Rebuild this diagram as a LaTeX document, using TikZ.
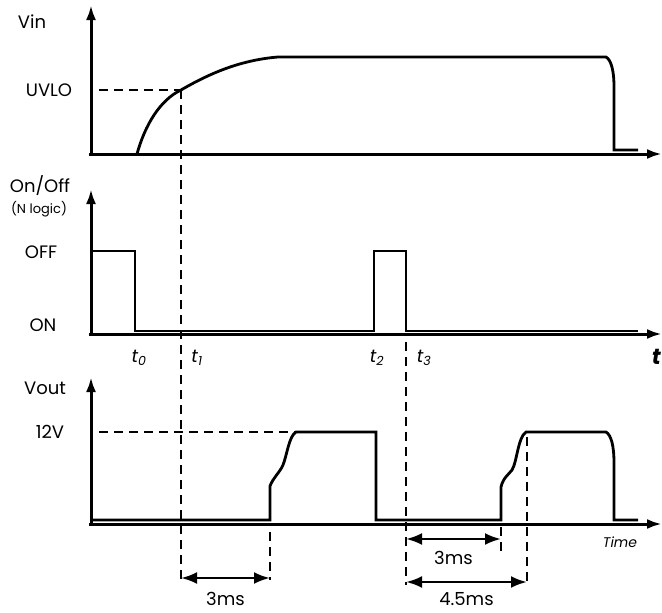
\documentclass[tikz,border=0pt]{standalone}
\usepackage{fontspec}
\setmainfont{Poppins}
\usetikzlibrary{arrows.meta}

\tikzset{
  axis/.style={line width=3pt, -{Latex[length=15pt,width=10pt]}},
  sig/.style={line width=2.8pt},
  guide/.style={line width=2.6pt, dash pattern=on 9pt off 6pt},
  dim/.style={line width=2.6pt, {Latex[length=16pt,width=12pt]}-{Latex[length=16pt,width=12pt]}},
  lbl/.style={font=\fontsize{18}{20}\selectfont, inner sep=0pt},
  tlbl/.style={font=\fontsize{18}{20}\selectfont\itshape, inner sep=0pt}
}

\begin{document}
\begin{tikzpicture}[x=1pt, y=-1pt]
\useasboundingbox (0,0) rectangle (662,613);

% axes
\draw[axis] (91,155) -- (91,5); % Vin axis
\draw[axis] (89,154) -- (662,154);
\draw[axis] (91,335) -- (91,189); % On/Off axis
\draw[axis] (89,334) -- (662,334);
\draw[axis] (91,525) -- (91,377); % Vout axis
\draw[axis] (89,524) -- (662,524);

% axis labels
\node[lbl] (vin) at (32,22) {Vin};
\node[lbl] (uvlo) at (49,90) {UVLO};
\node[lbl] (onoff) at (40,186) {On/Off};
\node[lbl, font=\fontsize{13}{15}\selectfont] (nlogic) at (39,209) {(N logic)};
\node[lbl] (off) at (41,252) {OFF};
\node[lbl] (on) at (43,325) {ON};
\node[lbl] (vout) at (45,388) {Vout};
\node[lbl] (twelve) at (50,432) {12V};

% Vin trace
\draw[sig] (137,154) .. controls (145,125) and (160,100) .. (181,90)
  .. controls (212,72) and (242,60) .. (278,57) -- (606,57)
  .. controls (611,60) and (614,70) .. (614,87) -- (614,150) -- (638,150);

% On/Off trace
\draw[sig] (91,251) -- (135,251) -- (135,331) -- (374,331) -- (374,251)
  -- (406,251) -- (406,331) -- (638,331);

% Vout trace
\draw[sig] (91,520) -- (270,520) -- (270,486) .. controls (273,478) and (280,472) .. (283,465)
  .. controls (287,455) and (289,436) .. (296,432) -- (376,432) -- (376,520)
  -- (501,520) -- (501,487) .. controls (503,478) and (509,474) .. (512,470)
  .. controls (517,462) and (518,437) .. (526,432) -- (606,432)
  .. controls (611,435) and (614,445) .. (614,463) -- (614,520) -- (638,520);

% time marks
\node[tlbl] (t0) at (139,358) {t\textsubscript{0}};
\node[tlbl] (t1) at (197,358) {t\textsubscript{1}};
\node[tlbl] (t2) at (377,358) {t\textsubscript{2}};
\node[tlbl] (t3) at (424,358) {t\textsubscript{3}};
\node[font=\fontsize{22}{24}\selectfont\bfseries\itshape, inner sep=0pt, anchor=east] (t) at (661,357) {t};
\node[font=\fontsize{14}{16}\selectfont\itshape, inner sep=0pt] (time) at (620,542) {Time};

% dashed guides
\draw[guide] (99,90) -- (181,90);
\draw[guide] (181,90) -- (181,580);
\draw[guide] (99,432) -- (296,432);
\draw[guide] (270,532) -- (270,580);
\draw[guide] (406,342) -- (406,585);
\draw[guide] (501,527) -- (501,552);
\draw[guide] (527,437) -- (527,585);

% delays
\coordinate (a1) at (181,578);
\coordinate (b1) at (270,578);
\draw[dim] (a1) -- (b1) node[lbl, midway, below=13pt] (d1) {3ms};
\coordinate (a2) at (406,539);
\coordinate (b2) at (501,539);
\draw[dim] (a2) -- (b2) node[lbl, pos=0.5, below=11pt] (d2) {3ms};
\coordinate (a3) at (406,582);
\coordinate (b3) at (527,582);
\draw[dim] (a3) -- (b3) node[lbl, pos=0.5, below=9pt] (d3) {4.5ms};

\end{tikzpicture}
\end{document}
